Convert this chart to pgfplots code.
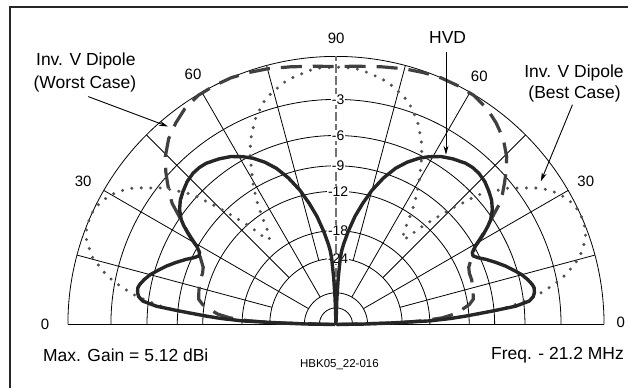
\documentclass[border=0pt]{standalone}
\usepackage{fontspec}
\setmainfont{Liberation Sans}
\usepackage{pgfplots}
\pgfplotsset{compat=1.18}
\usepackage{pgfplotstable}
\usetikzlibrary{arrows.meta}

% angle (deg), relative gain (dB), ARRL log scale
\pgfplotstableread{
ang db
0 -99
0.8 -40
1.5 -28
2.2 -18
3.0 -14.5
3.7 -12.4
4.9 -9.2
5.8 -6.8
6.9 -5.5
8.0 -5.1
9.1 -4.95
10.5 -4.9
11.5 -5.0
13.2 -5.3
15.0 -5.7
17.0 -6.3
19.0 -6.9
21.3 -7.7
23.5 -8.5
25.2 -9.2
26.6 -9.6
27.8 -9.5
29.3 -8.9
30.5 -8.1
31.7 -7.4
33.0 -6.7
34.1 -6.2
36.3 -5.55
38.6 -5.1
41.0 -4.8
43.8 -4.5
46.6 -4.35
49.0 -4.35
51.2 -4.45
54.8 -4.8
58.0 -5.2
61.0 -5.75
63.5 -6.3
66.3 -7.1
69.1 -8.1
72.0 -9.5
75.0 -11.3
77.5 -13.2
80.0 -15.3
82.5 -18
84.5 -20.5
85.5 -22
86.3 -24
87.2 -30
88.0 -40
90 -99
92.0 -40
92.8 -30
93.7 -24
94.5 -22
95.5 -20.5
97.5 -18
100 -15.3
102.5 -13.2
105 -11.3
108 -9.5
110.9 -8.1
113.7 -7.1
116.5 -6.3
119 -5.75
122 -5.2
125.2 -4.8
128.8 -4.45
131 -4.35
133.4 -4.35
136.2 -4.5
139 -4.8
141.4 -5.1
143.7 -5.55
145.9 -6.2
147 -6.7
148.3 -7.4
149.5 -8.1
150.7 -8.9
152.2 -9.5
153.4 -9.6
154.8 -9.2
156.5 -8.5
158.7 -7.7
161 -6.9
163 -6.3
165 -5.7
166.8 -5.3
168.5 -5.0
169.5 -4.9
170.9 -4.95
172 -5.1
173.1 -5.5
174.2 -6.8
175.1 -9.2
176.3 -12.4
177 -14.5
177.8 -18
178.5 -28
179.2 -40
180 -99
}\hvd

\pgfplotstableread{
ang db
0 -99
1.5 -25
2.5 -19
3.6 -15.8
5.0 -14
6.8 -12.8
8.5 -11.8
10.4 -11.2
14 -11.0
18.2 -10.8
21 -10.8
23.3 -10.6
26 -9.9
29.3 -8.9
32 -7.3
34.7 -5.8
36.5 -4.7
38 -4.1
40 -3.4
42 -2.7
44.5 -1.95
48 -1.2
51.5 -0.7
55 -0.3
59 -0.05
63 0
67 0
71 -0.1
75 -0.22
80 -0.42
85 -0.58
90 -0.66
95 -0.58
100 -0.42
105 -0.22
109 -0.1
113 0
117 0
121 -0.05
125 -0.3
128.5 -0.7
132 -1.2
135.5 -1.95
138 -2.7
140 -3.4
142 -4.1
143.5 -4.7
145.3 -5.8
148 -7.3
150.7 -8.9
154 -9.9
156.7 -10.6
159 -10.8
161.8 -10.8
166 -11.0
169.6 -11.2
171.5 -11.8
173.2 -12.8
175 -14
176.4 -15.8
177.5 -19
178.5 -25
180 -99
}\worst

\pgfplotstableread{
ang db
0 -99
1 -30
2 -19
3 -14.5
3.8 -12
4.5 -10.15
5.4 -8.1
6.1 -7.1
7.2 -5.8
8.4 -4.65
9.4 -3.94
10.4 -3.28
11.5 -2.62
12.9 -1.98
14.1 -1.53
15.4 -1.03
17.2 -0.63
18.9 -0.28
20.8 -0.08
23 0
25 0
27.2 -0.16
28.9 -0.39
30.7 -0.7
32.55 -1.16
33.9 -1.58
35.3 -2.16
36.7 -2.76
38.3 -3.37
39.75 -4.22
41 -4.9
42.2 -5.63
42.9 -6.28
43.65 -7.13
44.6 -8.0
45.5 -9.0
46.4 -10.0
47.5 -11.15
48.6 -12.3
49.7 -13.7
50.5 -14.9
52 -15.6
53.8 -14.5
54.9 -13.2
55.8 -12.06
56.9 -10.79
58.0 -9.76
59.6 -8.43
61.6 -7.04
63 -6.0
64.1 -5.37
65.3 -4.68
66.9 -4.05
68.25 -3.42
70.1 -2.9
71.7 -2.4
73.9 -1.97
75.8 -1.7
77.6 -1.4
79.7 -1.18
81.7 -1.04
84 -0.84
86 -0.73
90 -0.7
94 -0.73
96 -0.84
98.3 -1.04
100.3 -1.18
102.4 -1.4
104.2 -1.7
106.1 -1.97
108.3 -2.4
109.9 -2.9
111.75 -3.42
113.1 -4.05
114.7 -4.68
115.9 -5.37
117 -6.0
118.4 -7.04
120.4 -8.43
122 -9.76
123.1 -10.79
124.2 -12.06
125.1 -13.2
126.2 -14.5
128 -15.6
129.5 -14.9
130.3 -13.7
131.4 -12.3
132.5 -11.15
133.6 -10.0
134.5 -9.0
135.4 -8.0
136.35 -7.13
137.1 -6.28
137.8 -5.63
139 -4.9
140.25 -4.22
141.7 -3.37
143.3 -2.76
144.7 -2.16
146.1 -1.58
147.45 -1.16
149.3 -0.7
151.1 -0.39
152.8 -0.16
155 0
157 0
159.2 -0.08
161.1 -0.28
162.8 -0.63
164.6 -1.03
165.9 -1.53
167.1 -1.98
168.5 -2.62
169.6 -3.28
170.6 -3.94
171.6 -4.65
172.8 -5.8
173.9 -7.1
174.6 -8.1
175.5 -10.15
176.2 -12
177 -14.5
178 -19
179 -30
180 -99
}\best

\tikzset{gridl/.style={black, line width=0.8pt},
  big/.style={font=\fontsize{17.5}{20}\selectfont},
  num/.style={font=\fontsize{15}{17}\selectfont},
  tl/.style={font=\fontsize{14}{15}\selectfont, fill=white, inner sep=0.8pt},
  arr/.style={black, line width=0.9pt, -{Stealth[length=9pt,width=5pt]}}}

\begin{document}
\begin{tikzpicture}
\begin{axis}[x=268.5pt, y=268.5pt,
  xmin=-1.2533, xmax=1.0894, ymin=-0.2384, ymax=1.2104,
  hide axis, clip=false]
\path (axis cs:-1.2533,-0.2384) rectangle (axis cs:1.0894,1.2104);
% frame
\draw[black!85, line width=2pt] (axis cs:-1.2160,-0.2384) -- (axis cs:-1.2160,1.1832) -- (axis cs:1.0894,1.1832);
% rings
\pgfplotsinvokeforeach{1,0.8396,0.7050,0.5919,0.4970,0.3504,0.2470,0.118,0.062}{
  \draw[gridl] (axis cs:#1,0) arc[start angle=0, end angle=180, radius=#1*268.5pt];
}
% spokes
\pgfplotsinvokeforeach{15,45,75,105,135,165}{
  \draw[gridl] ([shift={(#1:66.32pt)}]axis cs:0,0) -- ([shift={(#1:268.5pt)}]axis cs:0,0);
}
\pgfplotsinvokeforeach{30,60,120,150}{
  \draw[gridl] ([shift={(#1:31.7pt)}]axis cs:0,0) -- ([shift={(#1:268.5pt)}]axis cs:0,0);
}
\draw[gridl] (axis cs:-1,0) -- (axis cs:1,0);
\draw[black!55, line width=1.3pt, dash pattern=on 9pt off 3pt] (axis cs:0,0) -- (axis cs:0,1);
% dB labels
\node[tl] at (axis cs:0.008,0.8396) {-3};
\node[tl] at (axis cs:0.008,0.7050) {-6};
\node[tl] at (axis cs:0.008,0.5919) {-9};
\node[tl] at (axis cs:0.008,0.4970) {-12};
\node[tl] at (axis cs:0.008,0.3504) {-18};
\node[tl] at (axis cs:0.008,0.2470) {-24};
% curves
\addplot[black!68, line width=3.4pt, line cap=round, dash pattern=on 0pt off 9.5pt]
  table[x expr={exp(0.058267*\thisrow{db})*cos(\thisrow{ang})}, y expr={exp(0.058267*\thisrow{db})*sin(\thisrow{ang})}] {\best};
\addplot[black!75, line width=3.2pt, dash pattern=on 21pt off 11pt]
  table[x expr={exp(0.058267*\thisrow{db})*cos(\thisrow{ang})}, y expr={exp(0.058267*\thisrow{db})*sin(\thisrow{ang})}] {\worst};
\addplot[black!85, line width=3.4pt, line join=round]
  table[x expr={exp(0.058267*\thisrow{db})*cos(\thisrow{ang})}, y expr={exp(0.058267*\thisrow{db})*sin(\thisrow{ang})}] {\hvd};
% angle labels
\node[num, anchor=base] at (axis cs:0.0007,1.0492) {90};
\node[num, anchor=base] at (axis cs:-0.5333,0.9125) {60};
\node[num, anchor=base] at (axis cs:0.5345,0.9062) {60};
\node[num, anchor=base] at (axis cs:-0.943,0.5151) {30};
\node[num, anchor=base] at (axis cs:0.9318,0.5151) {30};
\node[num, anchor=base] at (axis cs:-1.0857,-0.0186) {0};
\node[num, anchor=base] at (axis cs:1.0622,-0.0112) {0};
% annotations
\node[big, anchor=base] at (axis cs:-0.933,0.9646) {Inv. V Dipole};
\node[big, anchor=base] at (axis cs:-0.9367,0.8816) {(Worst Case)};
\node[big, anchor=base] at (axis cs:0.4164,1.0466) {HVD};
\node[big, anchor=base] at (axis cs:0.888,0.9225) {Inv. V Dipole};
\node[big, anchor=base] at (axis cs:0.890,0.8417) {(Best Case)};
\draw[arr] (axis cs:-0.924,0.850) -- (axis cs:-0.6264,0.7385);
\draw[arr] (axis cs:0.4104,1.0168) -- (axis cs:0.4104,0.6331);
\draw[arr] (axis cs:0.882,0.8194) -- (axis cs:0.7642,0.5337);
\node[big, anchor=base west, inner sep=0pt] at (axis cs:-1.0931,-0.1367) {Max. Gain = 5.12 dBi};
\node[big, anchor=base east, inner sep=0pt] at (axis cs:1.0745,-0.1304) {Freq. - 21.2 MHz};
\node[font=\fontsize{11.5}{13}\selectfont, anchor=base] at (axis cs:0.013,-0.1613) {HBK05\_22-016};
\end{axis}
\end{tikzpicture}
\end{document}
